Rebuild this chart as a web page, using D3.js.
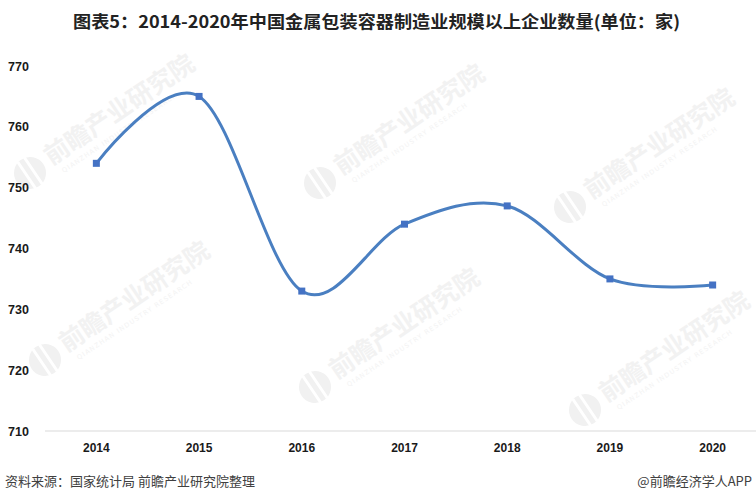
<!DOCTYPE html>
<html><head><meta charset="utf-8">
<script src="https://cdn.jsdelivr.net/npm/d3@7"></script>
<style>body{margin:0;background:#fff}svg{display:block}</style>
</head><body>
<script>
const years = ["2014","2015","2016","2017","2018","2019","2020"];
const counts = [754, 765, 733, 744, 747, 735, 734];
const yTicks = [710, 720, 730, 740, 750, 760, 770];
const titleText = "图表5：2014-2020年中国金属包装容器制造业规模以上企业数量(单位：家)";
const sourceText = "资料来源：国家统计局 前瞻产业研究院整理";
const creditText = "@前瞻经济学人APP";
const watermarkSpots = [[30,173],[320,183],[570,207],[45,360],[315,387],[585,410]];

const W = 756, H = 501;
const svg = d3.select("body").append("svg").attr("width", W).attr("height", H);

// watermarks
const wm = svg.append("g");
watermarkSpots.forEach(([cx, cy]) => {
  const g = wm.append("g").attr("transform", `translate(${cx},${cy}) rotate(-34)`);
  g.append("circle").attr("r", 16).attr("fill", "#f1f1f1");
  g.append("path").attr("d", "M-4,-16 L-4,16 M4,-16 L4,16").attr("stroke", "#fff").attr("stroke-width", 3);
  g.append("text").attr("x", 22).attr("y", 6).text("前瞻产业研究院")
    .attr("font-family", "Noto Sans CJK SC").attr("font-weight", "bold").attr("font-size", 25)
    .attr("fill", "#f2f2f2");
  g.append("text").attr("x", 28).attr("y", 19).text("QIANZHAN INDUSTRY RESEARCH")
    .attr("font-family", "DejaVu Sans").attr("font-size", 6.5).attr("letter-spacing", 1.2)
    .attr("fill", "#f3f3f3");
});

const x = d3.scalePoint().domain(years).range([45, 764]).padding(0.5);
const y = d3.scaleLinear().domain([710, 770]).range([431, 66]);

// x axis line
svg.append("line").attr("x1", 45).attr("x2", 756).attr("y1", y(710)).attr("y2", y(710))
  .attr("stroke", "#d9d9d9").attr("stroke-width", 1);

// y labels
svg.append("g").selectAll("text").data(yTicks).join("text")
  .attr("x", 8).attr("y", d => y(d) + 4.5).text(d => d)
  .attr("font-family", "Liberation Sans").attr("font-weight", "bold").attr("font-size", 12.5)
  .attr("fill", "#1a1a1a");

// x labels
svg.append("g").selectAll("text").data(years).join("text")
  .attr("x", d => x(d)).attr("y", 452).attr("text-anchor", "middle").text(d => d)
  .attr("font-family", "Liberation Sans").attr("font-weight", "bold").attr("font-size", 12)
  .attr("fill", "#1a1a1a");

// line
const pts = years.map((yr, i) => [x(yr), y(counts[i])]);
svg.append("path").attr("d", d3.line().curve(d3.curveCardinal.tension(0))(pts))
  .attr("fill", "none").attr("stroke", "#4a7fc1").attr("stroke-width", 3)
  .attr("stroke-linecap", "round");

svg.append("g").selectAll("rect").data(pts).join("rect")
  .attr("x", d => d[0] - 3.5).attr("y", d => d[1] - 3.5).attr("width", 7).attr("height", 7)
  .attr("fill", "#4472c4");

// title
svg.append("text").attr("x", 73).attr("y", 28).text(titleText)
  .attr("font-family", "Noto Sans CJK SC").attr("font-weight", "bold").attr("font-size", 17)
  .attr("textLength", 607).attr("lengthAdjust", "spacingAndGlyphs").attr("fill", "#222");

// footer
svg.append("text").attr("x", 5).attr("y", 486).text(sourceText)
  .attr("font-family", "Noto Sans CJK SC").attr("font-size", 13).attr("fill", "#404040");
svg.append("text").attr("x", 752).attr("y", 486).attr("text-anchor", "end").text(creditText)
  .attr("font-family", "Noto Sans CJK SC").attr("font-size", 13).attr("fill", "#404040");
</script>
</body></html>
